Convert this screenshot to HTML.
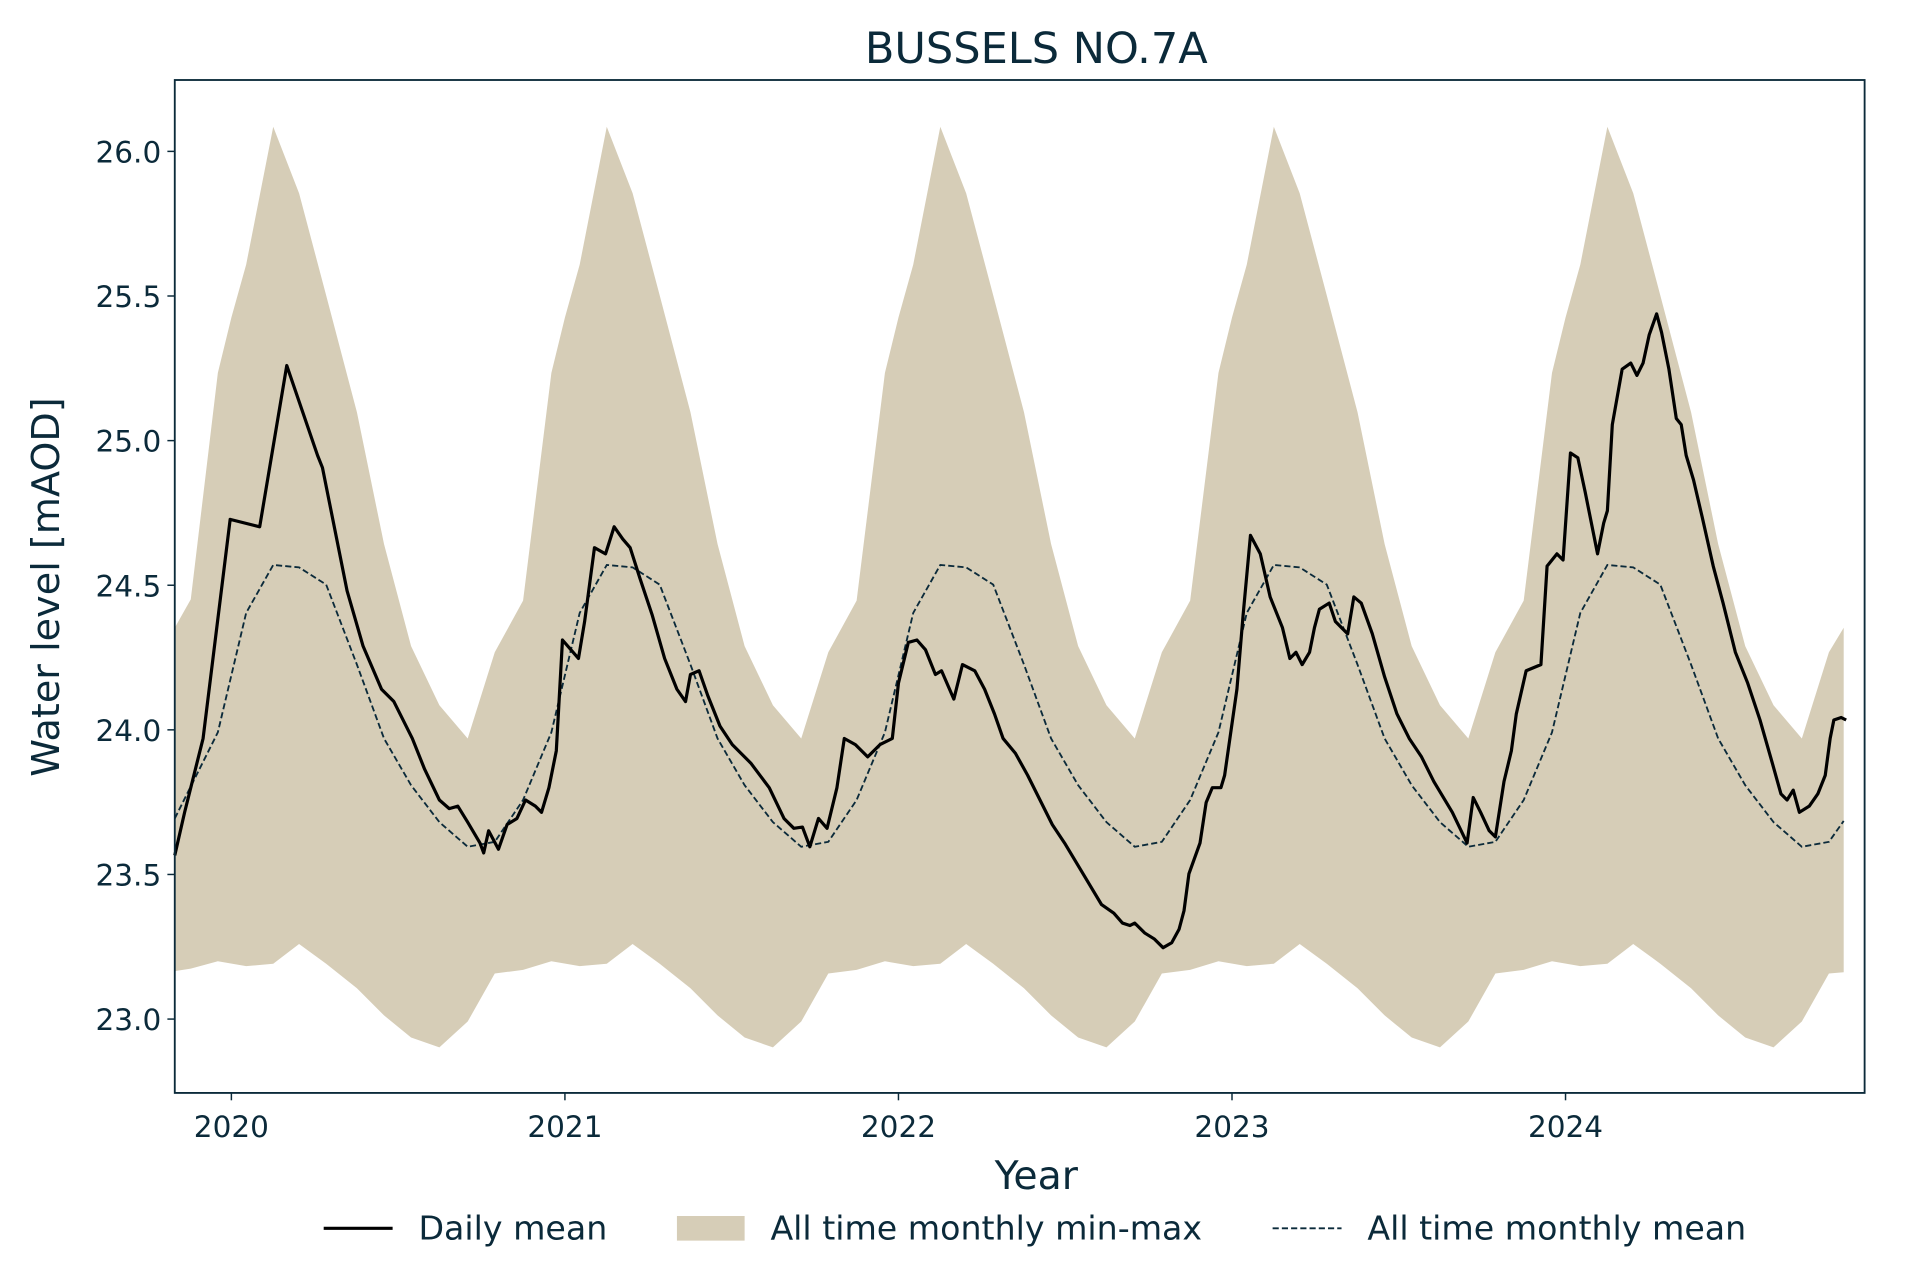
<!DOCTYPE html>
<html><head><meta charset="utf-8"><style>html,body{margin:0;padding:0;background:#fff}svg{display:block}</style></head><body>
<svg width="1920" height="1280" viewBox="0 0 1560 1040" xmlns="http://www.w3.org/2000/svg" font-family="'DejaVu Sans', 'Liberation Sans', sans-serif" fill="#0b2a3a">
<rect width="1560" height="1040" fill="#fff"/>
<polygon fill="#d6cdb7" points="
142,510 155,487 177,303 188,258 200,215 222,103 243,157 265,240 290,335 312,442 334,525 357,573 380,600 402,530 425,488
448,303 459,258 471,215 493,103 514,157 536,240 561,335 583,442 605,525 628,573 651,600 673,530 696,488
719,303 730,258 742,215 764,103 785,157 807,240 832,335 854,442 876,525 899,573 922,600 944,530 967,488
990,303 1001,258 1013,215 1035,103 1056,157 1078,240 1103,335 1125,442 1147,525 1170,573 1193,600 1215,530 1238,488
1261,303 1272,258 1284,215 1306,103 1327,157 1349,240 1374,335 1396,442 1418,525 1441,573 1464,600 1486,530 1498,510
1498,790 1486,791 1464,830 1441,851 1418,843 1396,825 1374,803 1349,783 1327,767 1306,783 1284,785 1261,781
1238,788 1215,791 1193,830 1170,851 1147,843 1125,825 1103,803 1078,783 1056,767 1035,783 1013,785 990,781
967,788 944,791 922,830 899,851 876,843 854,825 832,803 807,783 785,767 764,783 742,785 719,781
696,788 673,791 651,830 628,851 605,843 583,825 561,803 536,783 514,767 493,783 471,785 448,781
425,788 402,791 380,830 357,851 334,843 312,825 290,803 265,783 243,767 222,783 200,785 177,781 155,787 142,789"/>
<polyline fill="none" stroke="#0b2a3a" stroke-width="1.5" stroke-dasharray="5,2.5" points="
142,665 177,595 200,498 222,459 243,461 265,475 290,540 312,600 334,638 357,668 380,688 402,684 425,650
448,595 471,498 493,459 514,461 536,475 561,540 583,600 605,638 628,668 651,688 673,684 696,650
719,595 742,498 764,459 785,461 807,475 832,540 854,600 876,638 899,668 922,688 944,684 967,650
990,595 1013,498 1035,459 1056,461 1078,475 1103,540 1125,600 1147,638 1170,668 1193,688 1215,684 1238,650
1261,595 1284,498 1306,459 1327,461 1349,475 1374,540 1396,600 1418,638 1441,668 1464,688 1486,684 1498,667"/>
<polyline fill="none" stroke="#000" stroke-width="2.6" stroke-linejoin="round" points="142,695 150,660 165,600 187,422 211,428 233,297 258,370 262,380 270,420 282,480 295,525 310,560 320,570 335,600 345,625 357,650 365,657 372,655 380,668 390,685 393,693 397,675 405,690 412,670 420,665 427,650 435,655 440,660 446,640 452,610 457,520 470,535 475,505 483,445 492,450 499,428 506,438 512,445 520,470 530,500 540,535 550,560 557,570 561,548 568,545 575,565 585,590 595,605 610,620 625,640 637,665 645,673 652,672 658,688 665,665 672,673 680,640 686,600 695,605 705,615 715,605 725,600 730,555 738,522 745,520 752,528 760,548 765,545 775,568 782,540 792,545 800,560 808,580 815,600 825,612 835,630 845,650 855,670 865,685 880,710 895,735 905,742 912,750 918,752 922,750 930,758 938,763 945,770 952,766 958,755 962,740 966,710 975,685 980,652 985,640 992,640 995,630 1005,560 1010,500 1016,435 1024,450 1032,485 1042,510 1048,535 1053,530 1058,540 1064,530 1068,510 1072,495 1080,490 1085,505 1090,510 1095,515 1100,485 1106,490 1115,515 1125,550 1135,580 1145,600 1155,615 1165,635 1180,660 1192,685 1197,648 1203,660 1210,675 1215,680 1222,635 1228,610 1232,580 1240,545 1252,540 1257,460 1265,450 1270,455 1276,368 1282,372 1288,400 1293,425 1298,450 1303,425 1306,415 1310,345 1318,300 1325,295 1330,305 1335,295 1340,272 1346,255 1350,270 1356,300 1362,340 1366,345 1370,370 1376,390 1383,420 1392,460 1400,490 1410,530 1420,555 1430,585 1440,620 1447,645 1452,650 1457,642 1462,660 1470,655 1477,645 1483,630 1487,600 1490,585 1496,583 1500,585"/>
<rect x="142" y="65" width="1373" height="823" fill="none" stroke="#0b2a3a" stroke-width="1.5"/>
<g stroke="#0b2a3a" stroke-width="1.2">
<line x1="136" y1="123" x2="142" y2="123"/><line x1="136" y1="240.5" x2="142" y2="240.5"/><line x1="136" y1="358" x2="142" y2="358"/><line x1="136" y1="475.5" x2="142" y2="475.5"/><line x1="136" y1="593" x2="142" y2="593"/><line x1="136" y1="710.5" x2="142" y2="710.5"/><line x1="136" y1="828" x2="142" y2="828"/>
<line x1="188" y1="888" x2="188" y2="894"/><line x1="459" y1="888" x2="459" y2="894"/><line x1="730" y1="888" x2="730" y2="894"/><line x1="1001" y1="888" x2="1001" y2="894"/><line x1="1272" y1="888" x2="1272" y2="894"/>
</g>
<g font-size="24" text-anchor="end">
<text x="131" y="132">26.0</text><text x="131" y="249.5">25.5</text><text x="131" y="367">25.0</text><text x="131" y="484.5">24.5</text><text x="131" y="602">24.0</text><text x="131" y="719.5">23.5</text><text x="131" y="837">23.0</text>
</g>
<g font-size="24" text-anchor="middle">
<text x="188" y="924">2020</text><text x="459" y="924">2021</text><text x="730" y="924">2022</text><text x="1001" y="924">2023</text><text x="1272" y="924">2024</text>
</g>
<text x="842" y="966" font-size="32" text-anchor="middle">Year</text>
<text transform="translate(48,477) rotate(-90)" font-size="31" text-anchor="middle">Water level [mAOD]</text>
<text x="842" y="51" font-size="35" text-anchor="middle">BUSSELS NO.7A</text>
<line x1="263" y1="998" x2="319" y2="998" stroke="#000" stroke-width="2.6"/>
<text x="340" y="1007" font-size="27">Daily mean</text>
<rect x="550" y="988" width="55" height="20" fill="#d6cdb7"/>
<text x="626" y="1007" font-size="27">All time monthly min-max</text>
<line x1="1034" y1="998" x2="1090" y2="998" stroke="#0b2a3a" stroke-width="1.5" stroke-dasharray="5,2.5"/>
<text x="1111" y="1007" font-size="27">All time monthly mean</text>
</svg>
</body></html>
